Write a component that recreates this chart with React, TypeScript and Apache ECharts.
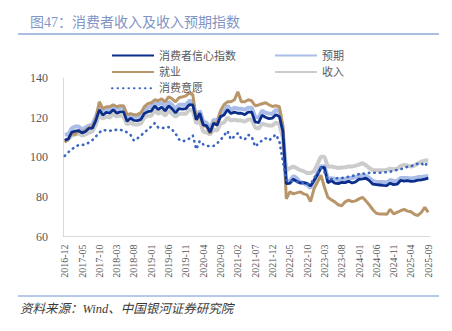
import React, { useEffect, useRef } from "react";
import * as echarts from "echarts";

// Monthly categories 2016-12 .. 2025-09
const months: string[] = (() => {
  const out: string[] = [];
  let y = 2016, m = 12;
  while (y < 2025 || (y === 2025 && m <= 9)) {
    out.push(`${y}-${String(m).padStart(2, "0")}`);
    m++;
    if (m > 12) { m = 1; y++; }
  }
  return out;
})();

const confidence = [
  108.6, 109.2, 112.6, 113.2, 113.4, 112.3, 113.0, 114.6, 114.7, 118.6, 123.9, 121.3,
  122.6, 122.3, 124.0, 122.3, 122.9, 122.9, 118.2, 119.7, 118.6, 118.5, 119.1, 122.1,
  123.0, 123.3, 125.9, 124.1, 125.3, 123.4, 125.9, 124.4, 122.4, 124.5, 124.3, 124.6,
  126.6, 126.4, 118.9, 122.2, 116.4, 115.8, 112.6, 117.2, 116.1, 120.5, 121.3, 124.0,
  122.1, 122.8, 122.2, 122.2, 121.5, 122.8, 122.8, 117.8, 117.5, 121.2, 120.2, 119.5,
  119.8, 121.5, 120.5, 113.2,
  86.7, 86.8, 88.9, 87.9, 87.0, 87.2, 86.8, 85.5, 88.3, 91.2, 94.7, 94.9,
  87.1, 88.2, 86.9, 86.7, 87.3, 87.2, 87.9, 87.0, 87.6, 88.9, 89.1, 89.4,
  88.2, 86.4, 86.2, 86.0, 85.8, 85.7, 86.9, 86.2, 86.4, 88.3, 88.0, 88.2,
  87.8, 88.0, 88.4, 88.6, 89.0, 89.5,
];

const expectation = [
  111.5, 111.5, 114.5, 115.5, 115.5, 114, 115, 116, 116.5, 120.5, 125.5, 123.5,
  124.5, 124, 126, 124.5, 125, 125, 120, 121.5, 120.5, 120.5, 121, 124,
  125, 125.5, 128, 126.5, 127.5, 125.5, 128, 126.5, 124.5, 126.5, 126.5, 126.5,
  128.5, 128, 119.5, 123.5, 118, 117.5, 114, 119, 118, 122.5, 123, 126,
  124, 125, 124.5, 124.5, 124, 125, 125, 120.5, 120, 123.5, 122.5, 122,
  122, 124, 123, 114,
  87.5, 88, 90.5, 89.5, 87.5, 87, 86, 84.5, 88, 92, 95.5, 95.5,
  89, 89.5, 89, 88.5, 89, 89, 89.5, 89.5, 90, 90.5, 91, 90.5,
  89.5, 88, 87.5, 87.5, 87.5, 87.3, 88.5, 88, 88, 89.5, 89.5, 89.5,
  89.3, 89.5, 90, 90, 90.3, 90.5,
];

const employment = [
  107.5, 109, 112, 111.5, 113.5, 112.5, 113.5, 115, 115.5, 119.5, 128, 124.5,
  125.5, 125.5, 126.5, 125.5, 126, 126, 121.5, 122, 121.5, 121.5, 122.5, 125.5,
  127, 127.5, 129, 128.5, 129.5, 128, 130.5, 129.5, 128, 130, 130.5, 131,
  132.5, 131.5, 119, 121, 116, 115.5, 112, 117.5, 117, 123.5, 126.5, 128,
  128, 129, 133, 128, 128, 129, 128.5, 126, 126.4, 127, 127.5, 126.5,
  125.6, 126, 125.5, 116,
  79, 82.5, 81.5, 82, 82.5, 81.5, 81, 77.6, 84, 87.5, 91, 85,
  79.8, 78.5, 77.5, 76, 75.5, 77.5, 78.4, 77.6, 78, 79, 79.8, 78,
  75.9, 73.5, 71.7, 71.3, 71.3, 71.2, 73.7, 71.4, 72.2, 73, 73.7, 72.8,
  72.5, 71.2, 70.6, 72.2, 74.7, 72.2,
];

const income = [
  108.5, 109, 111, 111.5, 112, 111, 111.5, 112.5, 113, 116.5, 121.5, 119.5,
  120.5, 120, 122, 120.5, 121, 120.5, 116.5, 117.5, 116.5, 116.5, 117, 120,
  121, 121, 123.5, 122, 123, 121, 123.5, 122, 120.5, 122, 122, 122,
  124, 123.5, 117, 118.5, 113, 112.5, 111.5, 114, 113.5, 117, 117.5, 120,
  118.5, 119, 118.5, 118.5, 118, 119, 119, 115, 114.5, 117, 116.5, 116,
  116, 117.5, 116.5, 110,
  93.5, 94.5, 95.3, 94.5, 93.5, 93, 92, 92, 93, 96.5, 100.3, 100.3,
  95.3, 95.3, 95, 94.6, 94.8, 95, 95.3, 95.3, 95.8, 96.3, 97, 96,
  94.5, 93.6, 93.5, 93.5, 93.5, 93.6, 94.2, 94, 94.2, 95.5, 96.1, 95.8,
  95.3, 95.8, 96.8, 97.8, 98.3, 98.3,
];

const willingness = [
  100.7, 102.5, 104, 105.2, 106.2, 106.2, 106.4, 107.5, 108.7, 110.5, 112.5, 113.8,
  113.5, 113.3, 113.8, 113.8, 113.8, 113.5, 112.5, 111.3, 108.4, 109.5, 111, 112.5,
  114, 115.5, 117.2, 115, 114.6, 115, 115.2, 114, 112, 109, 108, 108.5,
  109.5, 111, 104, 108.2, 106.5, 105.7, 105.7, 105.7, 107, 108.7, 111, 113.3,
  109, 110.5, 112.1, 109.5, 109, 111.3, 110.5, 105.4, 107, 108.5, 109.6, 108.5,
  110, 111.5, 108, 98,
  88.5, 87.7, 88, 87.5, 87, 87, 86.5, 86.5, 89.4, 92, 94.6, 92.5,
  89, 89, 89.3, 89.5, 89.5, 89.8, 90.2, 90.5, 91, 91.5, 91.9, 91.5,
  92.2, 92.2, 92.2, 92.2, 92.3, 92.5, 92.7, 93.2, 93.6, 94, 94.4, 95.3,
  95.5, 96.1, 96.8, 97, 95.5, 98.1,
];

const yTicks = { min: 60, max: 140, interval: 20 };

const FONT = "'Liberation Serif', 'DejaVu Serif', 'Noto Sans CJK SC', serif";
const CJK = "'Liberation Serif', 'Noto Sans CJK SC', serif";
const HIDDEN = "rgba(0,0,0,0)";

export default function App() {
  const ref = useRef<HTMLDivElement>(null);
  useEffect(() => {
    if (!ref.current) return;
    const chart = echarts.init(ref.current, undefined, { renderer: "svg" });
    const legendText = { fontSize: 11, color: "#595959", fontFamily: CJK, lineHeight: 12 };
    const legendCommon = {
      top: 44.5, orient: "vertical", itemWidth: 42, itemHeight: 12, itemGap: 4.4,
      textStyle: legendText,
      itemStyle: { opacity: 0, color: HIDDEN, borderWidth: 0 },
    };
    chart.setOption({
      animation: false,
      backgroundColor: "#ffffff",
      grid: { left: 63, right: 22, top: 78, bottom: 94.5, containLabel: false },
      legend: [
        { ...legendCommon, left: 106, data: ["消费者信心指数", "就业", "消费意愿"] },
        { ...legendCommon, left: 269, data: ["预期", "收入"] },
      ],
      xAxis: {
        type: "category",
        data: months,
        boundaryGap: true,
        axisLine: { lineStyle: { color: "#d9d9d9", width: 1 } },
        axisTick: { show: false },
        axisLabel: {
          interval: 4, rotate: 90, margin: 8, fontSize: 10, color: "#595959", fontFamily: FONT,
        },
        splitLine: { show: false },
      },
      yAxis: {
        type: "value",
        min: yTicks.min, max: yTicks.max, interval: yTicks.interval,
        axisLine: { show: true, lineStyle: { color: "#d9d9d9", width: 1 } },
        axisTick: { show: false },
        axisLabel: { fontSize: 12, color: "#595959", fontFamily: FONT, margin: 15 },
        splitLine: { show: false },
      },
      series: [
        {
          name: "收入", type: "line", data: income, symbol: "none",
          lineStyle: { color: "#cccccc", width: 4 }, itemStyle: { color: HIDDEN },
        },
        {
          name: "预期", type: "line", data: expectation, symbol: "none",
          lineStyle: { color: "#a9bde8", width: 4 }, itemStyle: { color: HIDDEN },
        },
        {
          name: "就业", type: "line", data: employment, symbol: "none",
          lineStyle: { color: "#b9966a", width: 3 }, itemStyle: { color: HIDDEN },
        },
        {
          name: "消费者信心指数", type: "line", data: confidence, symbol: "none",
          lineStyle: { color: "#0b2e8c", width: 2.8 }, itemStyle: { color: HIDDEN },
        },
        {
          name: "消费意愿", type: "line", data: willingness, symbol: "none",
          lineStyle: { color: "#3a66c2", width: 2.6, type: [0.5, 5], cap: "round" },
          itemStyle: { color: HIDDEN },
        },
      ],
      graphic: [
        {
          type: "text", left: 30, top: 15,
          style: { text: "图47：消费者收入及收入预期指数", fontSize: 14, fill: "#8195c8", fontFamily: CJK },
        },
        {
          type: "line", shape: { x1: 18, y1: 34, x2: 439, y2: 34 },
          style: { stroke: "#8faadc", lineWidth: 1.5 },
        },
        {
          type: "line", shape: { x1: 18, y1: 296, x2: 439, y2: 296 },
          style: { stroke: "#6f8fd0", lineWidth: 1.2 },
        },
        {
          type: "text", left: 20, top: 303,
          style: {
            text: "资料来源：Wind、中国银河证券研究院", fontSize: 12.5, fontStyle: "italic",
            fill: "#3a3a3a", fontFamily: CJK,
          },
        },
      ],
    });
    return () => chart.dispose();
  }, []);
  return (
    <div
      ref={ref}
      style={{ position: "fixed", left: 0, top: 0, width: 452, height: 331, background: "#fff" }}
    />
  );
}
